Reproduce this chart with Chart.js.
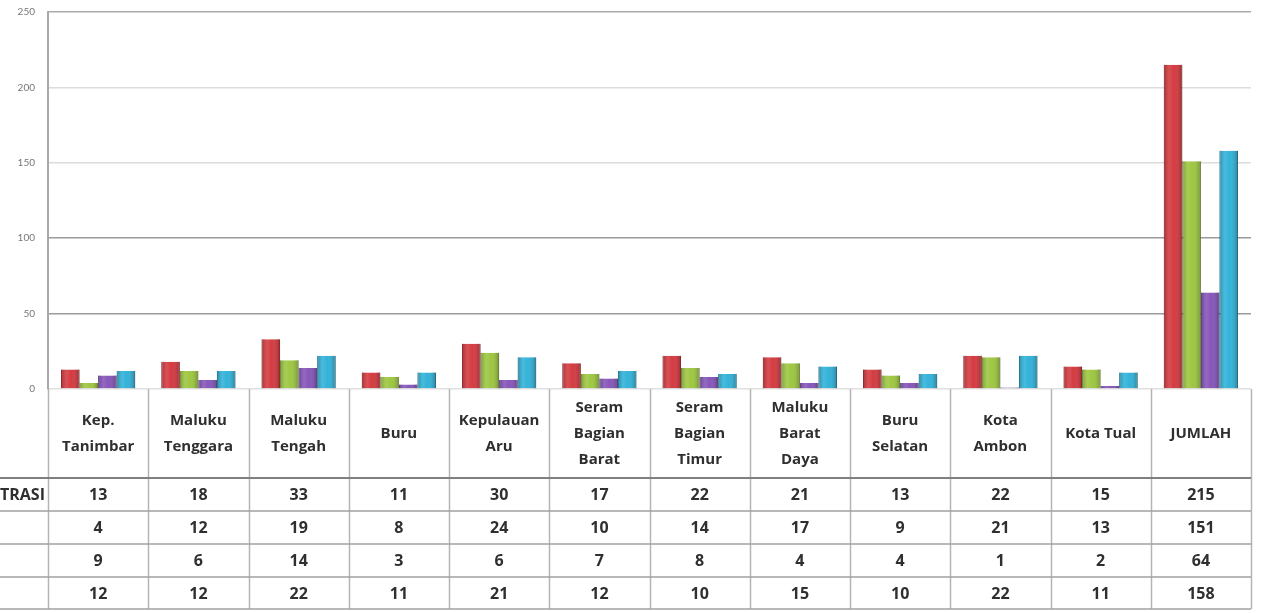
<!DOCTYPE html>
<html>
<head>
<meta charset="utf-8">
<script src="https://cdn.jsdelivr.net/npm/chart.js@4.4.1/dist/chart.umd.min.js"></script>
<style>
  html, body { margin: 0; padding: 0; background: #fff; }
  canvas { display: block; }
</style>
</head>
<body>
<canvas id="c" width="1262" height="613"></canvas>
<script>
const categories = [
  ['Kep.', 'Tanimbar'],
  ['Maluku', 'Tenggara'],
  ['Maluku', 'Tengah'],
  ['Buru'],
  ['Kepulauan', 'Aru'],
  ['Seram', 'Bagian', 'Barat'],
  ['Seram', 'Bagian', 'Timur'],
  ['Maluku', 'Barat', 'Daya'],
  ['Buru', 'Selatan'],
  ['Kota', 'Ambon'],
  ['Kota Tual'],
  ['JUMLAH']
];
const rowHeaders = ['TRASI', '', '', ''];
const series1 = [13, 18, 33, 11, 30, 17, 22, 21, 13, 22, 15, 215];
const series2 = [4, 12, 19, 8, 24, 10, 14, 17, 9, 21, 13, 151];
const series3 = [9, 6, 14, 3, 6, 7, 8, 4, 4, 1, 2, 64];
const series4 = [12, 12, 22, 11, 21, 12, 10, 15, 10, 22, 11, 158];
const yTicks = [0, 50, 100, 150, 200, 250];

const seriesData = [series1, series2, series3, series4];
const colors = ['#d3373d', '#9cc63e', '#8453b8', '#2fb1d8'];
const borders = ['#a8262b', '#7a9e2c', '#5e3a8c', '#1f86a8'];

const shadePlugin = {
  id: 'shade',
  afterDatasetsDraw(chart) {
    const ctx = chart.ctx;
    ctx.save();
    chart.data.datasets.forEach((ds, di) => {
      const meta = chart.getDatasetMeta(di);
      meta.data.forEach((el) => {
        const p = el.getProps(['x', 'y', 'base', 'width'], true);
        const l = p.x - p.width / 2, r = p.x + p.width / 2;
        const g = ctx.createLinearGradient(l, 0, r, 0);
        g.addColorStop(0, 'rgba(0,0,0,0.22)');
        g.addColorStop(0.3, 'rgba(255,255,255,0.12)');
        g.addColorStop(0.55, 'rgba(255,255,255,0.02)');
        g.addColorStop(1, 'rgba(0,0,0,0.28)');
        ctx.fillStyle = g;
        ctx.fillRect(l, p.y, p.width, p.base - p.y);
      });
    });
    ctx.restore();
  }
};

const tablePlugin = {
  id: 'dataTable',
  afterDraw(chart) {
    const ctx = chart.ctx;
    const x = chart.scales.x;
    const area = chart.chartArea;
    const left = area.left, right = area.right;
    const top = area.bottom;
    const headerBottom = 478;
    const rowH = 33;
    const bottom = headerBottom + rowH * 4 - 1;
    ctx.save();
    ctx.strokeStyle = '#b4b4b4';
    ctx.lineWidth = 1.5;
    const n = categories.length;
    const w = (right - left) / n;
    for (let i = 0; i <= n; i++) {
      const px = Math.round(left + i * w) + 0.5;
      ctx.beginPath();
      ctx.moveTo(px, top);
      ctx.lineTo(px, bottom);
      ctx.stroke();
    }
    ctx.strokeStyle = '#7f7f7f';
    ctx.lineWidth = 2;
    ctx.beginPath();
    ctx.moveTo(0, headerBottom);
    ctx.lineTo(right, headerBottom);
    ctx.stroke();
    ctx.strokeStyle = '#a0a0a0';
    ctx.lineWidth = 1.5;
    for (let r = 1; r <= 4; r++) {
      const py = headerBottom + r * rowH - (r === 4 ? 1 : 0);
      ctx.beginPath();
      ctx.moveTo(0, py);
      ctx.lineTo(right, py);
      ctx.stroke();
    }
    ctx.fillStyle = '#2f2f2f';
    ctx.textAlign = 'center';
    ctx.textBaseline = 'middle';
    ctx.font = 'bold 15px "Open Sans", Lato, sans-serif';
    const headerMid = (top + headerBottom) / 2;
    const lh = 26;
    categories.forEach((lines, i) => {
      const cx = x.getPixelForValue(i);
      const start = headerMid - (lines.length - 1) * lh / 2;
      lines.forEach((t, k) => ctx.fillText(t, cx, start + k * lh));
    });
    ctx.font = 'bold 16px "Open Sans", Lato, sans-serif';
    seriesData.forEach((arr, r) => {
      const cy = headerBottom + r * rowH + rowH / 2 + 0.5;
      arr.forEach((v, i) => {
        ctx.fillText(String(v), x.getPixelForValue(i), cy);
      });
      if (rowHeaders[r]) {
        ctx.textAlign = 'left';
        ctx.fillText(rowHeaders[r], 0, cy);
        ctx.textAlign = 'center';
      }
    });
    ctx.restore();
  }
};

new Chart(document.getElementById('c'), {
  type: 'bar',
  data: {
    labels: categories,
    datasets: seriesData.map((d, i) => ({
      label: 'Seri ' + (i + 1),
      data: d,
      backgroundColor: colors[i],
      borderColor: borders[i],
      borderWidth: { left: 1, right: 1, top: 0, bottom: 0 },
      categoryPercentage: 0.74,
      barPercentage: 1.0
    }))
  },
  options: {
    responsive: false,
    animation: false,
    devicePixelRatio: 1,
    layout: { padding: { left: 0, right: 11, top: 12, bottom: 224 } },
    plugins: {
      legend: { display: false },
      tooltip: { enabled: false }
    },
    scales: {
      x: { display: false },
      y: {
        min: 0,
        max: 250,
        afterBuildTicks: (s) => { s.ticks = yTicks.map(v => ({ value: v })); },
        afterFit: (s) => { s.width = 48; s.paddingTop = 0; s.paddingBottom = 0; },
        ticks: {
          color: '#777',
          font: { size: 10, family: 'Lato, "Open Sans", sans-serif' },
          padding: 13
        },
        grid: {
          drawTicks: false,
          color: (c) => {
            const v = c.tick.value;
            if (v === 0) return '#e0e0e0';
            if (v === 250) return '#ababab';
            if (v === 100 || v === 50) return '#9a9a9a';
            return '#dcdcdc';
          },
          lineWidth: 1.5
        },
        border: { display: true, color: '#a9a9a9', width: 2 }
      }
    }
  },
  plugins: [shadePlugin, tablePlugin]
});
</script>
</body>
</html>
